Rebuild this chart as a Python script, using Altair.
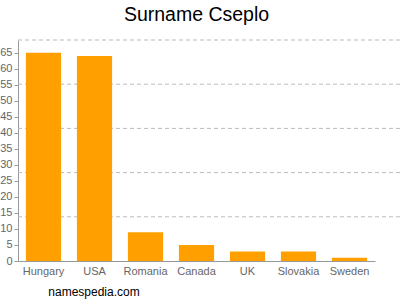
import altair as alt
import pandas as pd

countries = ["Hungary", "USA", "Romania", "Canada", "UK", "Slovakia", "Sweden"]
counts = [65, 64, 9, 5, 3, 3, 1]
y_ticks = list(range(0, 70, 5))
grid_levels = [13.8, 27.6, 41.4, 55.2, 69]
watermark = ["namespedia.com"]

df = pd.DataFrame({"country": countries, "count": counts})
gdf = pd.DataFrame({"g": grid_levels})
wdf = pd.DataFrame({"t": watermark})

yscale = alt.Scale(domain=[0, 69], nice=False, zero=True)
FONT = "Liberation Sans"

yaxis = alt.Axis(values=y_ticks, grid=False, labelColor="#666666", labelFontSize=11,
                 labelFont=FONT, tickColor="#999999", tickSize=4, domainColor="#999999",
                 labelPadding=2)

grid = alt.Chart(gdf).mark_rule(color="#bbbbbb", strokeDash=[4, 3], strokeWidth=1).encode(
    y=alt.Y("g:Q", scale=yscale, axis=yaxis, title=None),
    x=alt.value(0),
    x2=alt.value(382),
)

bars = alt.Chart(df).mark_bar(color="#ffa000").encode(
    x=alt.X("country:N", sort=countries, title=None,
            scale=alt.Scale(paddingInner=0.31, paddingOuter=0.155),
            axis=alt.Axis(labelAngle=0, labelColor="#666666", labelFontSize=11, labelFont=FONT,
                          ticks=False, domainColor="#999999", labelPadding=4)),
    y=alt.Y("count:Q", scale=yscale, title=None, axis=yaxis),
)

wm = alt.Chart(wdf).mark_text(font=FONT, fontSize=12, color="#000000", align="center").encode(
    text="t:N", x=alt.value(76), y=alt.value(252)
)

chart = alt.layer(grid, bars, wm).properties(
    width=357, height=221,
    title=alt.TitleParams("Surname Cseplo", font=FONT, fontSize=19.5, fontWeight="normal",
                          color="#000000", anchor="middle", offset=14),
    autosize=alt.AutoSizeParams(type="none"),
    padding={"left": 18, "top": 40, "right": 25, "bottom": 39},
).configure_view(stroke=None)

chart.save("out.html", embed_options={"renderer": "svg", "actions": False})
